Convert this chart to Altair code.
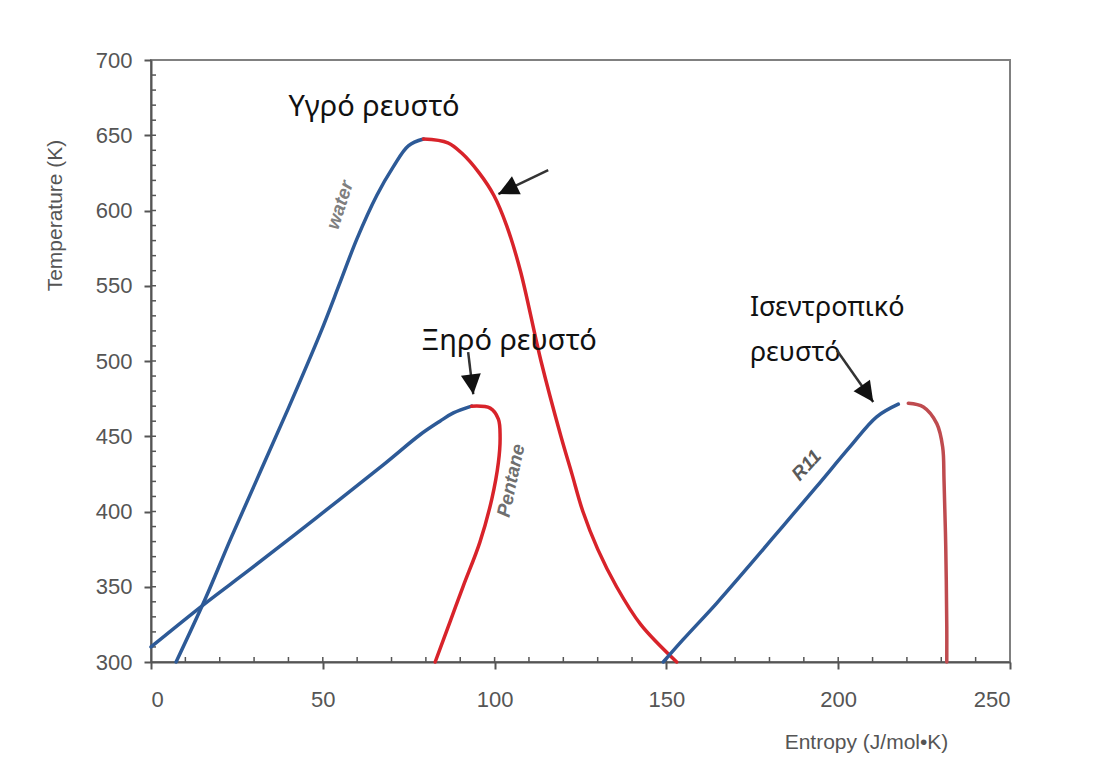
import altair as alt
import pandas as pd

# ---- saturation curves (entropy J/mol·K, temperature K) ----
water_liq_s = [7.3, 15.8, 23.4, 40.0, 49.2, 55.0, 59.9, 65.7, 70.5, 74.9, 79.3]
water_liq_T = [300, 342, 383, 468.7, 518, 552, 581, 610, 629, 643.0, 647.5]
water_vap_s = [79.3, 86.4, 90.5, 95.5, 99.8, 103.5, 107.5, 113.5, 119.3, 122.5, 125.7, 130.0, 135.5, 142.5, 153.0]
water_vap_T = [647.5, 645, 638, 625, 610, 590, 560, 500, 450, 425, 400, 375, 350, 325, 300]

pent_liq_s = [0, 15.8, 28.8, 48.2, 67.6, 78.3, 84.1, 88.0, 93.3]
pent_liq_T = [310, 339, 361.5, 396, 431, 451, 460, 465.5, 470]
pent_vap_s = [93.3, 98.7, 101.1, 101.6, 101.1, 99.2, 95.7, 90.9, 87.0, 82.7]
pent_vap_T = [470, 468.7, 461.4, 449.4, 432.5, 408.4, 379.5, 350.6, 326.5, 300]

r11_liq_s = [149.1, 154.9, 164.6, 174.3, 184.0, 193.7, 203.4, 211.2, 217.5]
r11_liq_T = [300, 315.0, 339.0, 364.5, 390.5, 416.5, 442.9, 462.9, 471.3]
r11_vap_s = [220.4, 224.8, 228.7, 230.4, 230.8, 231.3, 231.6, 231.6]
r11_vap_T = [472, 469.5, 458.4, 442.9, 420.7, 376.4, 323.2, 300]

segments = ["water_liq", "water_vap", "pent_liq", "pent_vap", "r11_liq", "r11_vap"]
seg_colors = ["#2d5a97", "#d8232a", "#2d5a97", "#d8232a", "#2d5a97", "#bf4b4f"]
seg_data = {
    "water_liq": (water_liq_s, water_liq_T),
    "water_vap": (water_vap_s, water_vap_T),
    "pent_liq": (pent_liq_s, pent_liq_T),
    "pent_vap": (pent_vap_s, pent_vap_T),
    "r11_liq": (r11_liq_s, r11_liq_T),
    "r11_vap": (r11_vap_s, r11_vap_T),
}

# ---- curve labels ----
curve_label_text = ["water", "Pentane", "R11"]
curve_label_s = [55.0, 104.8, 190.8]
curve_label_T = [603.6, 420.5, 430.7]
curve_label_angle = [288, 282, 312]
curve_label_color = ["#7f7f7f", "#6f6f6f", "#5a5a5a"]

# ---- annotations ----
note_text = ["Υγρό ρευστό", "Ξηρό ρευστό", "Ισεντροπικό", "ρευστό"]
note_s = [64.9, 104.2, 174.3, 174.3]
note_T = [662.8, 507.2, 529.8, 500.0]
note_align = ["center", "center", "left", "left"]
note_size = [29, 29, 27, 27]

arrow_s0 = [115.6, 92.3, 199.6]
arrow_T0 = [626.9, 505.9, 507.2]
arrow_s1 = [101.1, 93.8, 210.2]
arrow_T1 = [610.9, 477.9, 472.8]
arrow_angle = [244, 173, 145]

x_ticks = [0, 50, 100, 150, 200, 250]
y_ticks = [300, 350, 400, 450, 500, 550, 600, 650, 700]
x_minor = list(range(10, 250, 10))
y_minor = list(range(310, 700, 10))

W, H = 859, 602

rows = []
for seg in segments:
    ss, tt = seg_data[seg]
    for i, (s, t) in enumerate(zip(ss, tt)):
        rows.append({"s": s, "T": t, "seg": seg, "i": i})
curves = pd.DataFrame(rows)

xs = alt.Scale(domain=[0, 250], nice=False, zero=False)
ys = alt.Scale(domain=[300, 700], nice=False, zero=False)

AX = "#555555"
FONT = "Liberation Sans"

lines = alt.Chart(curves).mark_line(strokeWidth=3.5, strokeCap="round", strokeJoin="round",
                                    interpolate="catmull-rom").encode(
    x=alt.X("s:Q", scale=xs, axis=alt.Axis(
        values=x_ticks, title="Entropy (J/mol•K)", grid=False, domainColor=AX, domainWidth=2,
        tickColor=AX, tickWidth=2, tickSize=7, labelFont=FONT, labelFontSize=22, labelColor=AX,
        labelPadding=20, titleFont=FONT, titleFontSize=21, titleFontWeight="normal", titleColor=AX,
        titleX=715, titleY=80, titleAnchor="middle", titleAlign="center", titleBaseline="middle")),
    y=alt.Y("T:Q", scale=ys, axis=alt.Axis(
        values=y_ticks, title="Temperature (K)", grid=False, domainColor=AX, domainWidth=2,
        tickColor=AX, tickWidth=2, tickSize=7, labelFont=FONT, labelFontSize=22, labelColor=AX,
        labelPadding=12, titleFont=FONT, titleFontSize=21, titleFontWeight="normal", titleColor=AX,
        titleX=-96, titleY=155, titleAngle=270, titleAlign="center", titleBaseline="middle")),
    color=alt.Color("seg:N", scale=alt.Scale(domain=segments, range=seg_colors), legend=None),
    order=alt.Order("i:Q"),
)

xminor = alt.Chart(pd.DataFrame({"v": x_minor})).mark_rule(color=AX, strokeWidth=1.5).encode(
    x=alt.X("v:Q", scale=xs), y=alt.value(H), y2=alt.value(H - 5))
yminor = alt.Chart(pd.DataFrame({"v": y_minor})).mark_rule(color=AX, strokeWidth=1.5).encode(
    y=alt.Y("v:Q", scale=ys), x=alt.value(0), x2=alt.value(5))

clabels = alt.Chart(pd.DataFrame({"t": curve_label_text, "s": curve_label_s, "T": curve_label_T,
                                  "a": curve_label_angle, "c": curve_label_color})).mark_text(
    font=FONT, fontSize=19, fontWeight="bold", fontStyle="italic",
    align="center", baseline="middle").encode(
    x=alt.X("s:Q", scale=xs), y=alt.Y("T:Q", scale=ys), text="t:N",
    color=alt.Color("c:N", scale=None),
    angle=alt.Angle("a:Q", scale=None))

notes_df = pd.DataFrame({"t": note_text, "s": note_s, "T": note_T, "al": note_align, "fs": note_size})
notes = alt.layer(*[
    alt.Chart(notes_df[notes_df["al"] == al]).mark_text(
        font="Noto Sans", color="#111111", align=al, baseline="alphabetic").encode(
        x=alt.X("s:Q", scale=xs), y=alt.Y("T:Q", scale=ys), text="t:N",
        size=alt.Size("fs:Q", scale=None))
    for al in ["center", "left"]
])

arr = pd.DataFrame({"s0": arrow_s0, "T0": arrow_T0, "s1": arrow_s1, "T1": arrow_T1, "a": arrow_angle})
shafts = alt.Chart(arr).mark_rule(color="#333333", strokeWidth=2.5).encode(
    x=alt.X("s0:Q", scale=xs), y=alt.Y("T0:Q", scale=ys), x2="s1:Q", y2="T1:Q")
heads = alt.Chart(arr).mark_point(shape="M0,0L-0.5,1L0.5,1Z", filled=True, opacity=1,
                                  color="#111111", size=1600, strokeWidth=0).encode(
    x=alt.X("s1:Q", scale=xs), y=alt.Y("T1:Q", scale=ys), angle=alt.Angle("a:Q", scale=None))

chart = alt.layer(xminor, yminor, lines, clabels, notes, shafts, heads).properties(
    width=W, height=H,
    autosize=alt.AutoSizeParams(type="none"),
    padding={"left": 151, "top": 60, "right": 95, "bottom": 110},
    background="white",
).configure_view(stroke="#808080", strokeWidth=2)

chart.save("out.html", embed_options={"renderer": "svg", "actions": False})
